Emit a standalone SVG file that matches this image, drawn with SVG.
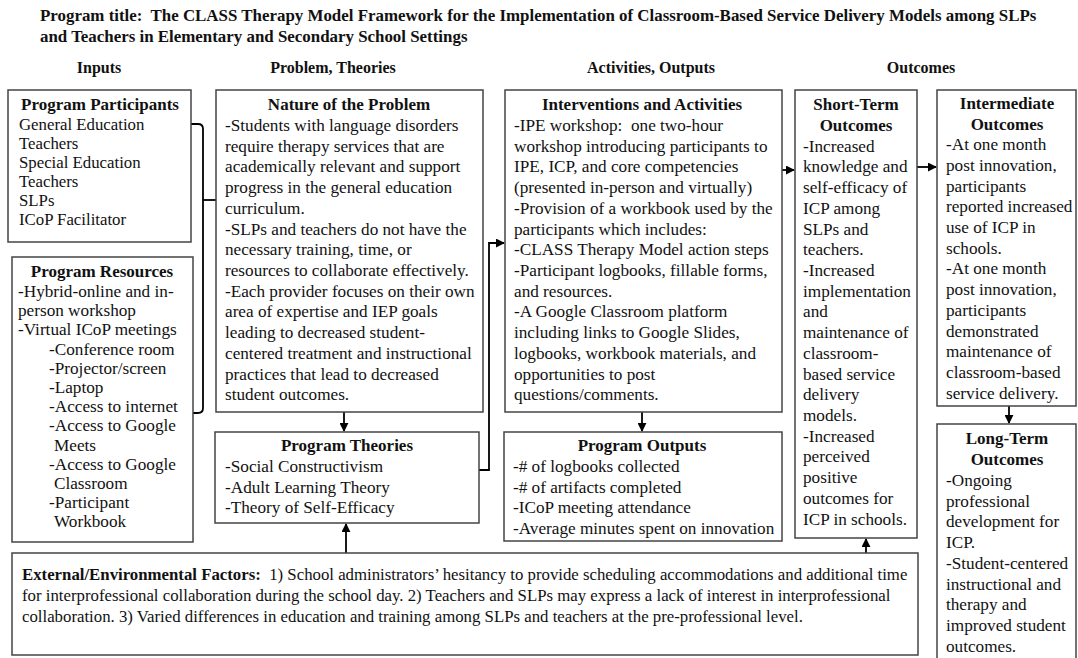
<svg xmlns="http://www.w3.org/2000/svg" width="1078" height="658" viewBox="0 0 1078 658">
  <defs>
    <marker id="arr" viewBox="0 0 10 10" refX="9" refY="5" markerWidth="5" markerHeight="5" orient="auto-start-reverse">
      <path d="M0,0 L10,5 L0,10 z" fill="#000"/>
    </marker>
    <style>
      text { font-family: "Liberation Serif", "Times New Roman", serif; fill: #111; }
      .t { font-size: 17.2px; }
      .s { font-size: 16.8px; }
      .b { font-size: 17px; font-weight: bold; }
      .h { font-size: 16.9px; font-weight: bold; }
      .k { font-size: 16px; font-weight: bold; }
      .c { text-anchor: middle; }
      .box { fill: #fff; stroke: #444; stroke-width: 1.5; }
      .con { fill: none; stroke: #000; stroke-width: 1.8; }
    </style>
  </defs>
  <rect width="1078" height="658" fill="#fff"/>

  <!-- Title and column headings -->
  <g id="title">
    <text class="h" x="40" y="21">Program title:&#160; The CLASS Therapy Model Framework for the Implementation of Classroom-Based Service Delivery Models among SLPs</text>
    <text class="h" x="40" y="42">and Teachers in Elementary and Secondary School Settings</text>
  </g>
  <g id="headings">
    <text class="k c" x="99" y="73">Inputs</text>
    <text class="k c" x="333" y="73">Problem, Theories</text>
    <text class="k c" x="651" y="73">Activities, Outputs</text>
    <text class="k c" x="921" y="73">Outcomes</text>
  </g>

  <!-- Connectors -->
  <g id="connectors">
    <path class="con" d="M191,124 H198 Q203,124 203,129 V408 Q203,413 198,413 H193"/>
    <path class="con" d="M203,200 H216"/>
    <path class="con" d="M344,412 V431" marker-end="url(#arr)"/>
    <path class="con" d="M642,412 V431" marker-end="url(#arr)"/>
    <path class="con" d="M479,470 H489 V243 H504" marker-end="url(#arr)"/>
    <path class="con" d="M782,170 H794" marker-end="url(#arr)"/>
    <path class="con" d="M917,167 H936" marker-end="url(#arr)"/>
    <path class="con" d="M1009,406 V423" marker-end="url(#arr)"/>
    <path class="con" d="M346,553 V524" marker-end="url(#arr)"/>
    <path class="con" d="M866,553 V539" marker-end="url(#arr)"/>
  </g>

  <g id="participants">
    <rect class="box" x="8" y="90" width="183" height="152"/>
    <text class="b c" x="100" y="110">Program Participants</text>
    <text class="s" x="19" y="130">General Education</text>
    <text class="s" x="19" y="149">Teachers</text>
    <text class="s" x="19" y="168">Special Education</text>
    <text class="s" x="19" y="187">Teachers</text>
    <text class="s" x="19" y="206">SLPs</text>
    <text class="s" x="19" y="225">ICoP Facilitator</text>
  </g>

  <g id="resources">
    <rect class="box" x="12" y="257" width="181" height="285"/>
    <text class="b c" x="102" y="277">Program Resources</text>
    <text class="t" x="18" y="297">-Hybrid-online and in-</text>
    <text class="t" x="18" y="316">person workshop</text>
    <text class="t" x="18" y="335">-Virtual ICoP meetings</text>
    <text class="t" x="49" y="355">-Conference room</text>
    <text class="t" x="49" y="374">-Projector/screen</text>
    <text class="t" x="49" y="393">-Laptop</text>
    <text class="t" x="49" y="412">-Access to internet</text>
    <text class="t" x="49" y="431">-Access to Google</text>
    <text class="t" x="54" y="451">Meets</text>
    <text class="t" x="49" y="470">-Access to Google</text>
    <text class="t" x="54" y="489">Classroom</text>
    <text class="t" x="49" y="508">-Participant</text>
    <text class="t" x="54" y="527">Workbook</text>
  </g>

  <g id="problem">
    <rect class="box" x="216" y="90" width="267" height="322"/>
    <text class="b c" x="349" y="110">Nature of the Problem</text>
    <text class="t" x="225" y="131">-Students with language disorders</text>
    <text class="t" x="225" y="152">require therapy services that are</text>
    <text class="t" x="225" y="172">academically relevant and support</text>
    <text class="t" x="225" y="193">progress in the general education</text>
    <text class="t" x="225" y="214">curriculum.</text>
    <text class="t" x="225" y="235">-SLPs and teachers do not have the</text>
    <text class="t" x="225" y="255">necessary training, time, or</text>
    <text class="t" x="225" y="276">resources to collaborate effectively.</text>
    <text class="t" x="225" y="297">-Each provider focuses on their own</text>
    <text class="t" x="225" y="317">area of expertise and IEP goals</text>
    <text class="t" x="225" y="338">leading to decreased student-</text>
    <text class="t" x="225" y="359">centered treatment and instructional</text>
    <text class="t" x="225" y="380">practices that lead to decreased</text>
    <text class="t" x="225" y="400">student outcomes.</text>
  </g>

  <g id="theories">
    <rect class="box" x="215" y="432" width="264" height="91"/>
    <text class="b c" x="347" y="451">Program Theories</text>
    <text class="t" x="225" y="472">-Social Constructivism</text>
    <text class="t" x="225" y="493">-Adult Learning Theory</text>
    <text class="t" x="225" y="513">-Theory of Self-Efficacy</text>
  </g>

  <g id="activities">
    <rect class="box" x="505" y="90" width="277" height="322"/>
    <text class="b c" x="642" y="110">Interventions and Activities</text>
    <text class="t" x="514" y="131">-IPE workshop:&#160; one two-hour</text>
    <text class="t" x="514" y="152">workshop introducing participants to</text>
    <text class="t" x="514" y="172">IPE, ICP, and core competencies</text>
    <text class="t" x="514" y="193">(presented in-person and virtually)</text>
    <text class="t" x="514" y="214">-Provision of a workbook used by the</text>
    <text class="t" x="514" y="235">participants which includes:</text>
    <text class="t" x="514" y="255">-CLASS Therapy Model action steps</text>
    <text class="t" x="514" y="276">-Participant logbooks, fillable forms,</text>
    <text class="t" x="514" y="297">and resources.</text>
    <text class="t" x="514" y="317">-A Google Classroom platform</text>
    <text class="t" x="514" y="338">including links to Google Slides,</text>
    <text class="t" x="514" y="359">logbooks, workbook materials, and</text>
    <text class="t" x="514" y="380">opportunities to post</text>
    <text class="t" x="514" y="400">questions/comments.</text>
  </g>

  <g id="outputs">
    <rect class="box" x="504" y="432" width="278" height="109"/>
    <text class="b c" x="642" y="451">Program Outputs</text>
    <text class="t" x="513" y="472">-# of logbooks collected</text>
    <text class="t" x="513" y="493">-# of artifacts completed</text>
    <text class="t" x="513" y="513">-ICoP meeting attendance</text>
    <text class="t" x="513" y="534">-Average minutes spent on innovation</text>
  </g>

  <g id="short-term">
    <rect class="box" x="795" y="90" width="122" height="448"/>
    <text class="b c" x="856" y="110">Short-Term</text>
    <text class="b c" x="856" y="131">Outcomes</text>
    <text class="t" x="803" y="152">-Increased</text>
    <text class="t" x="803" y="172">knowledge and</text>
    <text class="t" x="803" y="193">self-efficacy of</text>
    <text class="t" x="803" y="214">ICP among</text>
    <text class="t" x="803" y="235">SLPs and</text>
    <text class="t" x="803" y="255">teachers.</text>
    <text class="t" x="803" y="276">-Increased</text>
    <text class="t" x="803" y="297">implementation</text>
    <text class="t" x="803" y="317">and</text>
    <text class="t" x="803" y="338">maintenance of</text>
    <text class="t" x="803" y="359">classroom-</text>
    <text class="t" x="803" y="380">based service</text>
    <text class="t" x="803" y="400">delivery</text>
    <text class="t" x="803" y="421">models.</text>
    <text class="t" x="803" y="442">-Increased</text>
    <text class="t" x="803" y="462">perceived</text>
    <text class="t" x="803" y="483">positive</text>
    <text class="t" x="803" y="504">outcomes for</text>
    <text class="t" x="803" y="525">ICP in schools.</text>
  </g>

  <g id="intermediate">
    <rect class="box" x="937" y="90" width="139" height="316"/>
    <text class="b c" x="1007" y="109">Intermediate</text>
    <text class="b c" x="1007" y="130">Outcomes</text>
    <text class="t" x="946" y="150">-At one month</text>
    <text class="t" x="946" y="171">post innovation,</text>
    <text class="t" x="946" y="192">participants</text>
    <text class="t" x="946" y="212">reported increased</text>
    <text class="t" x="946" y="233">use of ICP in</text>
    <text class="t" x="946" y="254">schools.</text>
    <text class="t" x="946" y="274">-At one month</text>
    <text class="t" x="946" y="295">post innovation,</text>
    <text class="t" x="946" y="316">participants</text>
    <text class="t" x="946" y="337">demonstrated</text>
    <text class="t" x="946" y="357">maintenance of</text>
    <text class="t" x="946" y="378">classroom-based</text>
    <text class="t" x="946" y="399">service delivery.</text>
  </g>

  <g id="long-term">
    <rect class="box" x="937" y="424" width="139" height="250"/>
    <text class="b c" x="1007" y="444">Long-Term</text>
    <text class="b c" x="1007" y="465">Outcomes</text>
    <text class="t" x="946" y="486">-Ongoing</text>
    <text class="t" x="946" y="507">professional</text>
    <text class="t" x="946" y="527">development for</text>
    <text class="t" x="946" y="548">ICP.</text>
    <text class="t" x="946" y="569">-Student-centered</text>
    <text class="t" x="946" y="590">instructional and</text>
    <text class="t" x="946" y="610">therapy and</text>
    <text class="t" x="946" y="631">improved student</text>
    <text class="t" x="946" y="652">outcomes.</text>
  </g>

  <g id="external">
    <rect class="box" x="12" y="553" width="906" height="102"/>
    <text class="s" x="22" y="580"><tspan font-weight="bold">External/Environmental Factors:</tspan>&#160; 1) School administrators’ hesitancy to provide scheduling accommodations and additional time</text>
    <text class="s" x="22" y="601">for interprofessional collaboration during the school day. 2) Teachers and SLPs may express a lack of interest in interprofessional</text>
    <text class="s" x="22" y="622">collaboration. 3) Varied differences in education and training among SLPs and teachers at the pre-professional level.</text>
  </g>
</svg>
